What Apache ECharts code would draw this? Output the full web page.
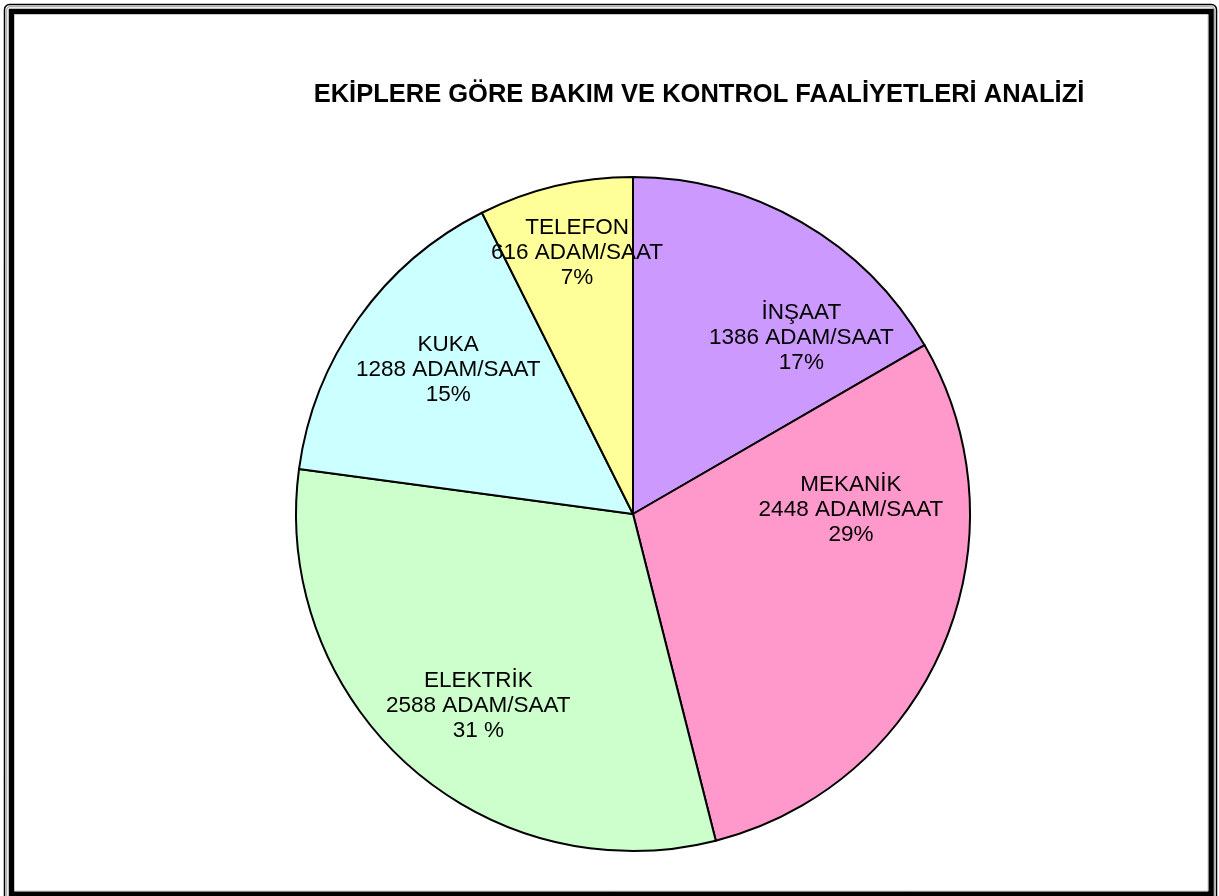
<!DOCTYPE html>
<html>
<head>
<meta charset="utf-8">
<script src="https://cdn.jsdelivr.net/npm/echarts@6/dist/echarts.min.js"></script>
<style>
html,body{margin:0;padding:0;background:#fff;}
#main{width:1219px;height:896px;}
</style>
</head>
<body>
<div id="main"></div>
<script>
var titleText = 'EKİPLERE GÖRE BAKIM VE KONTROL FAALİYETLERİ ANALİZİ';
var categories = ['İNŞAAT', 'MEKANİK', 'ELEKTRİK', 'KUKA', 'TELEFON'];
var values = [1386, 2448, 2588, 1288, 616];
var percentLabels = ['17%', '29%', '31 %', '15%', '7%'];
var unitLabel = 'ADAM/SAAT';

var colors = ['#CC99FF', '#FF99CC', '#CCFFCC', '#CCFFFF', '#FFFF99'];
// small label nudges (px) to match the reference label placement
var labelNudge = [[47, 34], [-6, -99], [7, 10], [13, -3], [0, -25]];

var pieData = categories.map(function (c, i) {
  return { name: c, value: values[i], itemStyle: { color: colors[i] } };
});
var labelData = categories.map(function (c, i) {
  return { name: c, value: values[i] };
});

var chart = echarts.init(document.getElementById('main'), null, { renderer: 'canvas' });
var FONT = '"Liberation Sans", Arial, sans-serif';

chart.setOption({
  animation: false,
  backgroundColor: '#ffffff',
  title: {
    text: titleText,
    left: 694,
    top: 77,
    textAlign: 'center',
    textStyle: { fontFamily: FONT, fontWeight: 'bold', fontSize: 25.5, color: '#000' }
  },
  graphic: [
    { type: 'rect', silent: true, shape: { x: 4.5, y: 4.5, width: 1212, height: 900, r: 5 },
      style: { fill: 'none', stroke: '#000', lineWidth: 1.5 } },
    { type: 'rect', silent: true, shape: { x: 6.5, y: 6.5, width: 1208, height: 900, r: 4 },
      style: { fill: 'none', stroke: '#b0b0b0', lineWidth: 1.5 } },
    { type: 'rect', silent: true, shape: { x: 11.5, y: 11.5, width: 1199.5, height: 882.5 },
      style: { fill: 'none', stroke: '#000', lineWidth: 5.5 } },
    { type: 'rect', silent: true, shape: { x: 14.5, y: 14.5, width: 1193.5, height: 876.5 },
      style: { fill: 'none', stroke: '#c8c8c8', lineWidth: 1 } }
  ],
  series: [
    {
      type: 'pie',
      center: [633, 514],
      radius: [0, 337],
      startAngle: 90,
      clockwise: true,
      silent: true,
      label: { show: false },
      labelLine: { show: false },
      itemStyle: { borderColor: '#000', borderWidth: 2 },
      emphasis: { disabled: true },
      data: pieData
    },
    {
      type: 'pie',
      center: [633, 514],
      radius: [143, 337],
      startAngle: 90,
      clockwise: true,
      silent: true,
      itemStyle: { color: 'rgba(0,0,0,0)', borderWidth: 0 },
      emphasis: { disabled: true },
      labelLine: { show: false },
      label: {
        show: true,
        position: 'inside',
        fontFamily: FONT,
        fontSize: 22.5,
        lineHeight: 25,
        color: '#000',
        align: 'center',
        formatter: function (p) {
          return p.name + '\n' + p.value + ' ' + unitLabel + '\n' + percentLabels[p.dataIndex];
        }
      },
      labelLayout: function (p) {
        var n = labelNudge[p.dataIndex] || [0, 0];
        return { dx: n[0], dy: n[1] };
      },
      data: labelData
    }
  ]
});
</script>
</body>
</html>
